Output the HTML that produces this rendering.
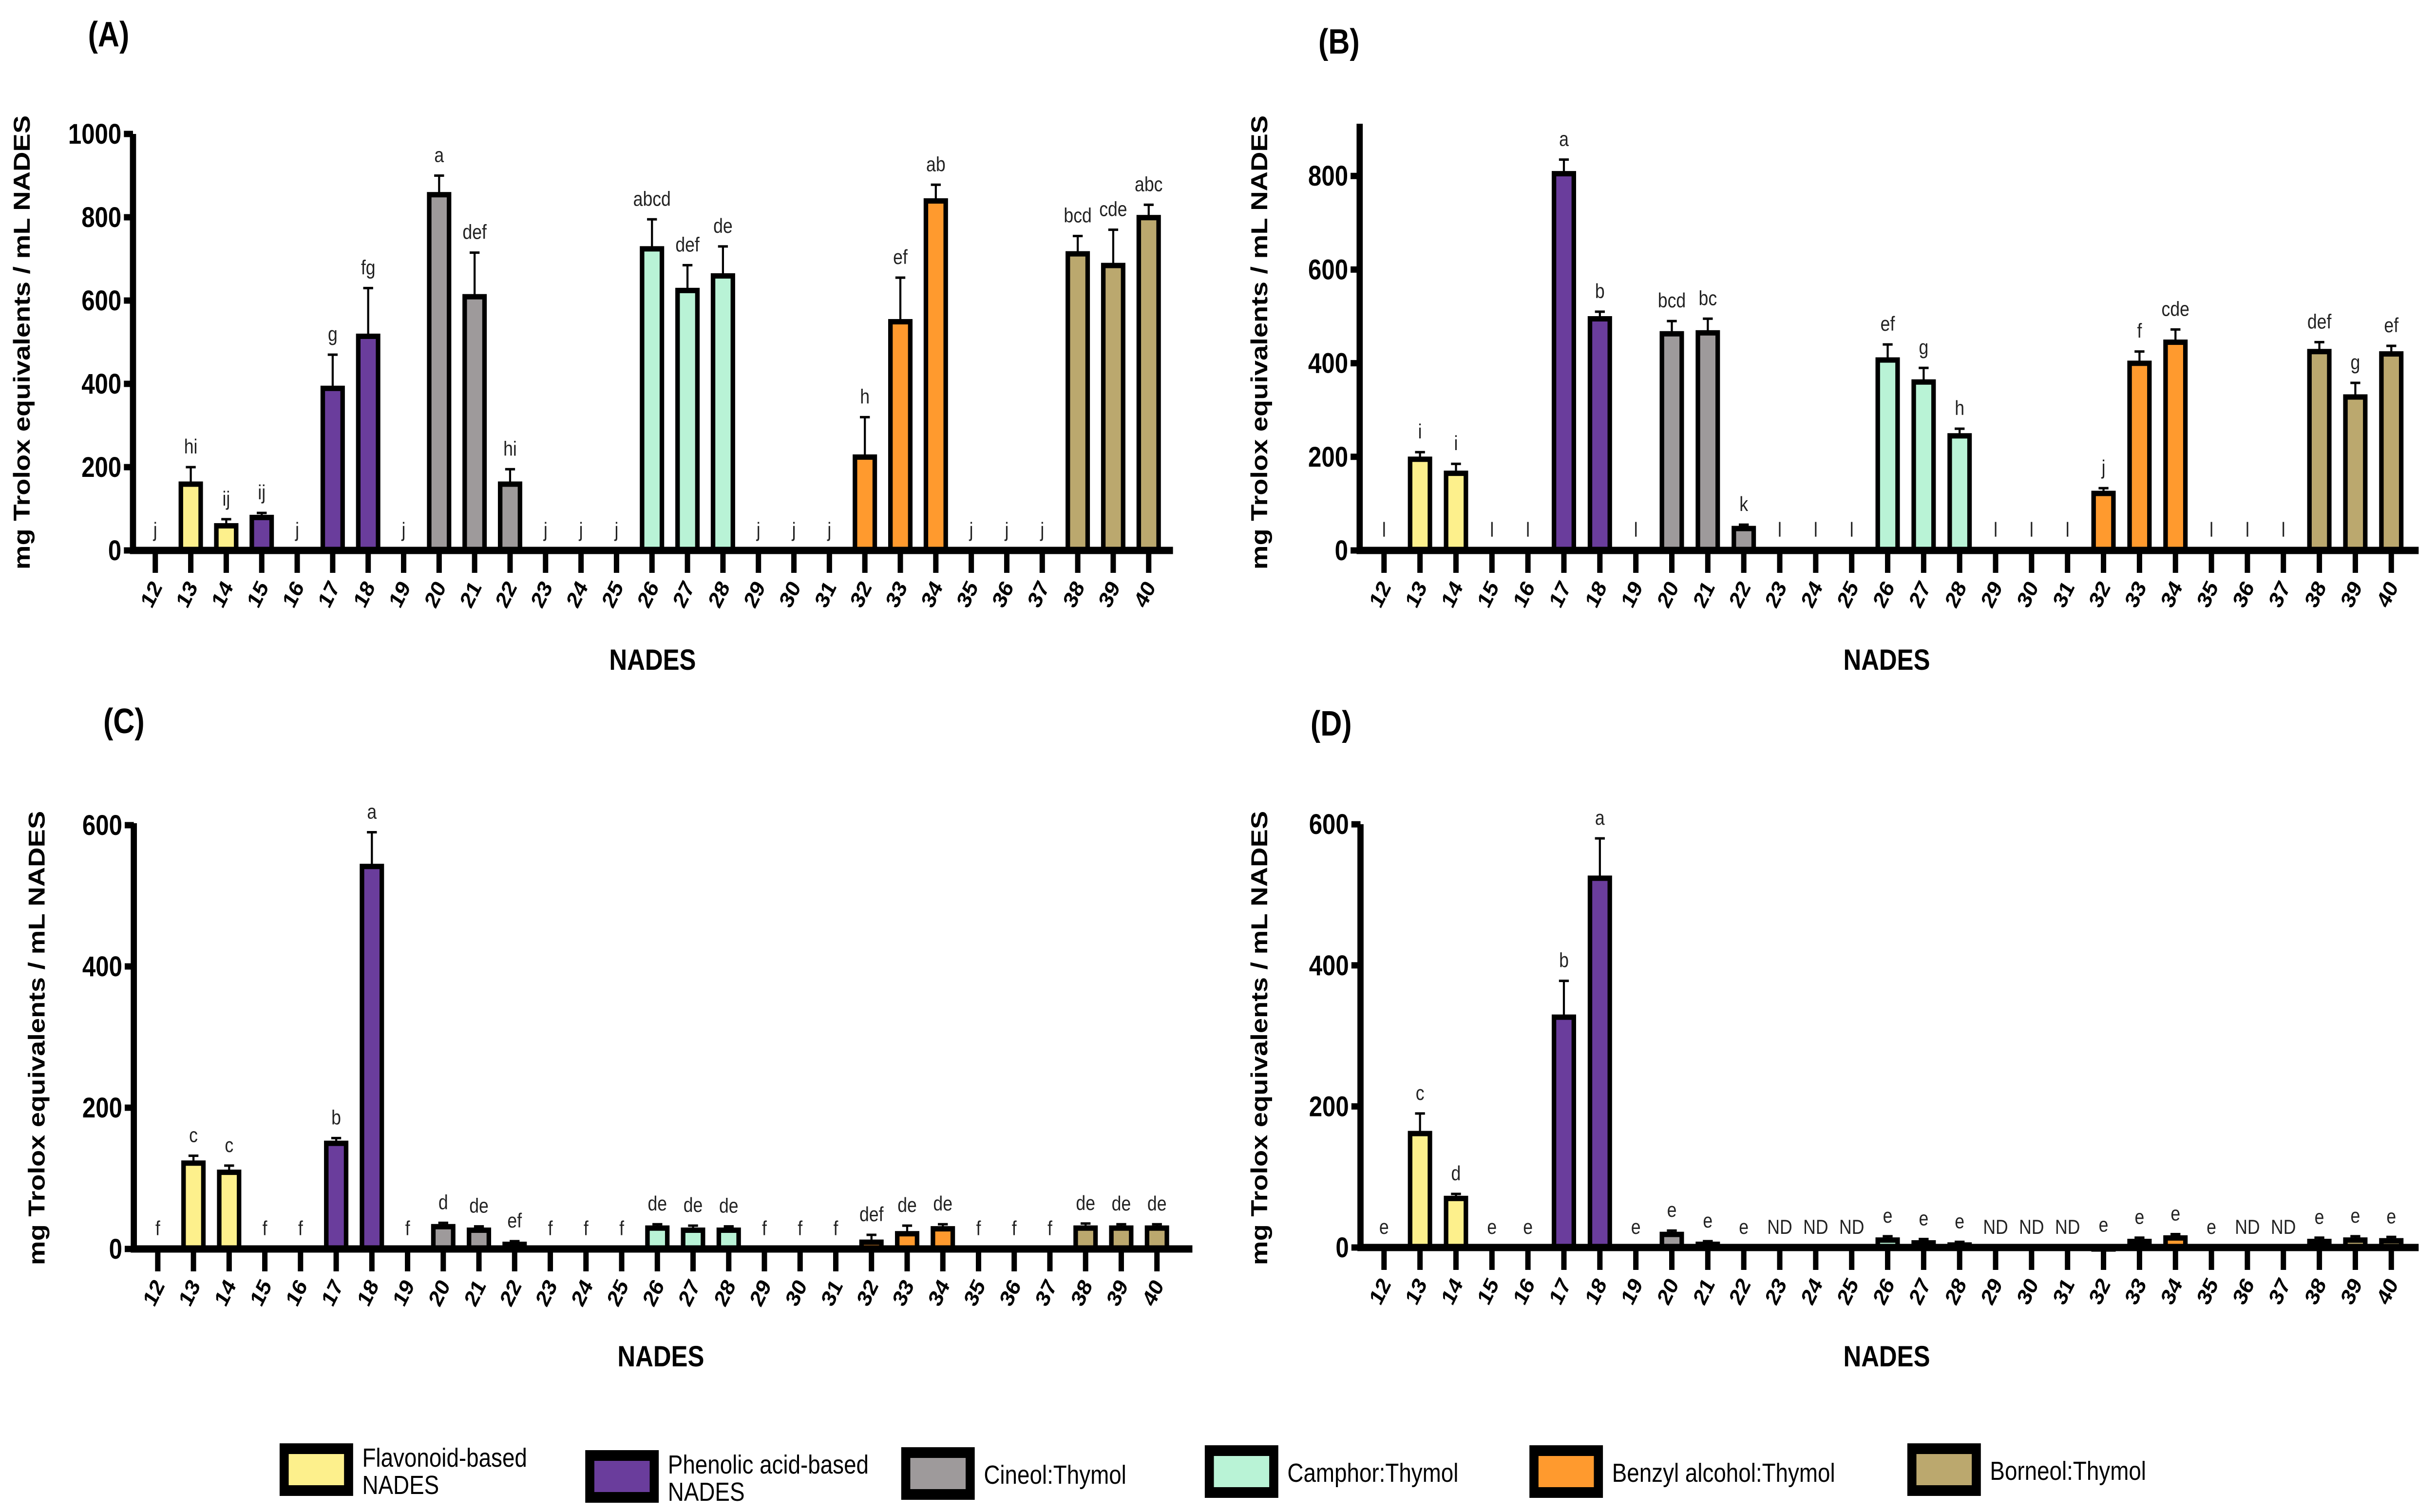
<!DOCTYPE html>
<html><head><meta charset="utf-8">
<style>
html,body{margin:0;padding:0;background:#fff;width:100%;height:100%;overflow:hidden;}
svg{display:block;font-family:"Liberation Sans",sans-serif;width:100vw;height:100vh;}
</style></head>
<body>
<svg id="chart" viewBox="0 0 5898 3104" preserveAspectRatio="none" xmlns="http://www.w3.org/2000/svg"></svg>
<script>
const categories = ["12","13","14","15","16","17","18","19","20","21","22","23","24","25","26","27","28","29","30","31","32","33","34","35","36","37","38","39","40"];
const groupOf = [0,0,0,1,1,1,1,2,2,2,2,3,3,3,3,3,3,4,4,4,4,4,4,5,5,5,5,5,5];
const groupNames = ["Flavonoid-based NADES","Phenolic acid-based NADES","Cineol:Thymol","Camphor:Thymol","Benzyl alcohol:Thymol","Borneol:Thymol"];
const groupColors = ["#fdf08c","#6a3d9c","#9e9a9b","#b9f3d6","#ff9a2e","#bba86e"];

const valuesA = [0,165,65,85,0,395,520,0,860,615,165,0,0,0,730,630,665,0,0,0,230,555,845,0,0,0,718,690,805];
const errA    = [0,35,10,5,0,75,110,0,40,100,30,0,0,0,65,55,65,0,0,0,90,100,33,0,0,0,37,80,25];
const lettersA = ["j","hi","ij","ij","j","g","fg","j","a","def","hi","j","j","j","abcd","def","de","j","j","j","h","ef","ab","j","j","j","bcd","cde","abc"];

const valuesB = [0,200,170,0,0,810,500,0,468,470,52,0,0,0,412,365,250,0,0,0,127,405,450,0,0,0,430,333,425];
const errB    = [0,10,15,0,0,25,10,0,22,25,3,0,0,0,28,25,10,0,0,0,6,20,22,0,0,0,15,25,12];
const lettersB = ["l","i","i","l","l","a","b","l","bcd","bc","k","l","l","l","ef","g","h","l","l","l","j","f","cde","l","l","l","def","g","ef"];

const valuesC = [0,125,112,0,0,153,545,0,35,30,10,0,0,0,33,30,30,0,0,0,13,25,32,0,0,0,33,33,33];
const errC    = [0,7,6,0,0,4,45,0,2,2,1,0,0,0,2,3,2,0,0,0,7,8,3,0,0,0,3,2,2];
const lettersC = ["f","c","c","f","f","b","a","f","d","de","ef","f","f","f","de","de","de","f","f","f","def","de","de","f","f","f","de","de","de"];

const valuesD = [0,165,73,0,0,330,527,0,22,8,0,0,0,0,14,10,7,0,0,0,2,12,17,0,0,0,12,14,13];
const errD    = [0,25,3,0,0,48,53,0,2,1,0,0,0,0,2,2,1,0,0,0,1,2,2,0,0,0,2,2,2];
const lettersD = ["e","c","d","e","e","b","a","e","e","e","e","ND","ND","ND","e","e","e","ND","ND","ND","e","e","e","e","ND","ND","e","e","e"];

const ticksA = [0,200,400,600,800,1000];
const ticksB = [0,200,400,600,800];
const ticksC = [0,200,400,600];
const ticksD = [0,200,400,600];

const NS="http://www.w3.org/2000/svg";
const svg=document.getElementById('chart');
function mk(tag,attrs,parent){const e=document.createElementNS(NS,tag);for(const k in attrs)e.setAttribute(k,attrs[k]);(parent||svg).appendChild(e);return e;}

const panels=[
 {id:"a",label:"(A)",lx:263,ly:95,axisX:322,zeroY:1130,ppu:0.855,x0:376,step:85.9,end:2840,top:275,ticks:ticksA,vals:valuesA,err:errA,let:lettersA,titleX:72,titleY:703,nx:1580,ny:1375},
 {id:"b",label:"(B)",lx:3242,ly:110,axisX:3292,zeroY:1130,ppu:0.961,x0:3351,step:87.1,end:5856,top:254,ticks:ticksB,vals:valuesB,err:errB,let:lettersB,titleX:3068,titleY:703,nx:4568,ny:1375},
 {id:"c",label:"(C)",lx:300,ly:1505,axisX:324,zeroY:2564,ppu:1.45,x0:382,step:86.4,end:2887,top:1690,ticks:ticksC,vals:valuesC,err:errC,let:lettersC,titleX:108,titleY:2131,nx:1600,ny:2805},
 {id:"d",label:"(D)",lx:3223,ly:1510,axisX:3294,zeroY:2561,ppu:1.448,x0:3351,step:87.1,end:5856,top:1692,ticks:ticksD,vals:valuesD,err:errD,let:lettersD,titleX:3068,titleY:2131,nx:4568,ny:2805}
];

panels.forEach(p=>{
  const g=mk('g',{});
  
  
  const yS=v=>p.zeroY-v*p.ppu;
  const xS=i=>p.x0+i*p.step;
  const pl=mk('text',{x:p.lx,y:p.ly,'font-size':72,'font-weight':'bold','text-anchor':'middle'},g);
  pl.textContent=p.label;
  
  
  const yt=mk('text',{x:0,y:0,'font-size':56,'font-weight':'bold','text-anchor':'middle',transform:`translate(${p.titleX},${p.titleY}) rotate(-90)`},g);
  yt.textContent="mg Trolox equivalents / mL NADES";
  
  
  const xt=mk('text',{x:p.nx,y:p.ny,'font-size':60,'font-weight':'bold','text-anchor':'middle'},g);
  xt.textContent="NADES";
  
  
  p.vals.forEach((v,i)=>{
    const cx=xS(i);
    if(v>0){
      const h=v*p.ppu;
      const b=mk('rect',{x:cx-24,y:p.zeroY-h+5,width:48,height:Math.max(h-5,1),fill:groupColors[groupOf[i]],stroke:'#000','stroke-width':11},g);
      
      
      if(p.err[i]>0){
        const ey=yS(v+p.err[i]);
        const el=mk('path',{d:`M${cx} ${p.zeroY-h} V${ey} M${cx-12} ${ey} H${cx+12}`,stroke:'#000','stroke-width':5,fill:'none'},g);
        
        
      }
    }
    const ty=(v>0?yS(v+p.err[i]):p.zeroY)-28;
    const lt=mk('text',{x:cx,y:ty,'font-size':42,fill:'#222','text-anchor':'middle'},g);
    lt.textContent=p.let[i];
    
    
    mk('line',{x1:cx,y1:p.zeroY,x2:cx,y2:p.zeroY+46,stroke:'#000','stroke-width':13},g);
    const tl=mk('text',{x:0,y:0,'font-size':48,'font-weight':'bold','text-anchor':'end',transform:`translate(${cx+18},${p.zeroY+75}) rotate(-60)`},g);
    tl.textContent=categories[i];
    
    
  });
  const ax=mk('path',{d:`M${p.axisX} ${p.top} V${p.zeroY} H${p.end}`,stroke:'#000','stroke-width':15,fill:'none'},g);
  
  
  p.ticks.forEach(t=>{
    const y=yS(t);
    mk('line',{x1:p.axisX-22,y1:y,x2:p.axisX,y2:y,stroke:'#000','stroke-width':13},g);
    const tt=mk('text',{x:p.axisX-28,y:y+20,'font-size':58,'font-weight':'bold','text-anchor':'end'},g);
    tt.textContent=t;
    
    
  });
});

const legendX=[677,1417,2182,2917,3703,4618];
const legendY=[2963,2977,2971,2967,2967,2963];
const lg=mk('g',{});


groupNames.forEach((n,i)=>{
  const e=mk('g',{},lg);
  
  
  mk('rect',{x:legendX[i]+11,y:legendY[i]+11,width:156,height:86,fill:groupColors[i],stroke:'#000','stroke-width':22},e);
  const tx=legendX[i]+200;
  if(i<2){
    const parts=n.split(" NADES");
    const t1=mk('text',{x:tx,y:legendY[i]+48,'font-size':54},e);
    t1.textContent=parts[0];
    const t2=mk('text',{x:tx,y:legendY[i]+104,'font-size':54},e);
    t2.textContent="NADES";
  } else {
    const t=mk('text',{x:tx,y:legendY[i]+75,'font-size':54},e);
    t.textContent=n;
  }
});
</script>
</body></html>
